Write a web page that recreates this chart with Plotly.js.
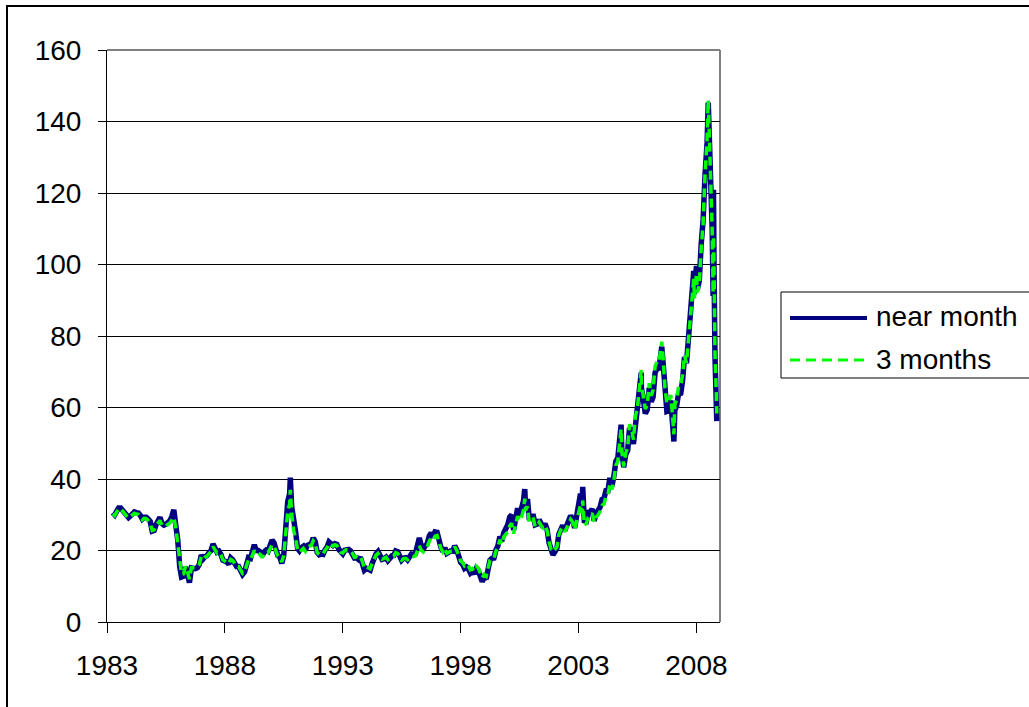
<!DOCTYPE html>
<html>
<head>
<meta charset="utf-8">
<script src="https://cdn.plot.ly/plotly-3.0.1.min.js"></script>
<style>html,body{margin:0;padding:0;background:#fff;}#chart{width:1029px;height:707px;}</style>
</head>
<body>
<div id="chart"></div>
<script>
// ---- data (WTI crude futures, $/bbl) ----
const dates = [
"1983-04","1983-05","1983-06","1983-07","1983-08","1983-09","1983-10","1983-11","1983-12",
"1984-01","1984-02","1984-03","1984-04","1984-05","1984-06","1984-07","1984-08","1984-09","1984-10","1984-11","1984-12",
"1985-01","1985-02","1985-03","1985-04","1985-05","1985-06","1985-07","1985-08","1985-09","1985-10","1985-11","1985-12",
"1986-01","1986-02","1986-03","1986-04","1986-05","1986-06","1986-07","1986-08","1986-09","1986-10","1986-11","1986-12",
"1987-01","1987-02","1987-03","1987-04","1987-05","1987-06","1987-07","1987-08","1987-09","1987-10","1987-11","1987-12",
"1988-01","1988-02","1988-03","1988-04","1988-05","1988-06","1988-07","1988-08","1988-09","1988-10","1988-11","1988-12",
"1989-01","1989-02","1989-03","1989-04","1989-05","1989-06","1989-07","1989-08","1989-09","1989-10","1989-11","1989-12",
"1990-01","1990-02","1990-03","1990-04","1990-05","1990-06","1990-07","1990-08","1990-09","1990-10","1990-10-11","1990-11","1990-12",
"1991-01","1991-02","1991-03","1991-04","1991-05","1991-06","1991-07","1991-08","1991-09","1991-10","1991-11","1991-12",
"1992-01","1992-02","1992-03","1992-04","1992-05","1992-06","1992-07","1992-08","1992-09","1992-10","1992-11","1992-12",
"1993-01","1993-02","1993-03","1993-04","1993-05","1993-06","1993-07","1993-08","1993-09","1993-10","1993-11","1993-12",
"1994-01","1994-02","1994-03","1994-04","1994-05","1994-06","1994-07","1994-08","1994-09","1994-10","1994-11","1994-12",
"1995-01","1995-02","1995-03","1995-04","1995-05","1995-06","1995-07","1995-08","1995-09","1995-10","1995-11","1995-12",
"1996-01","1996-02","1996-03","1996-04","1996-05","1996-06","1996-07","1996-08","1996-09","1996-10","1996-11","1996-12",
"1997-01","1997-02","1997-03","1997-04","1997-05","1997-06","1997-07","1997-08","1997-09","1997-10","1997-11","1997-12",
"1998-01","1998-02","1998-03","1998-04","1998-05","1998-06","1998-07","1998-08","1998-09","1998-10","1998-11","1998-12",
"1999-01","1999-02","1999-03","1999-04","1999-05","1999-06","1999-07","1999-08","1999-09","1999-10","1999-11","1999-12",
"2000-01","2000-02","2000-03","2000-04","2000-05","2000-06","2000-07","2000-08","2000-09","2000-09-20","2000-10","2000-11","2000-12",
"2001-01","2001-02","2001-03","2001-04","2001-05","2001-06","2001-07","2001-08","2001-09","2001-10","2001-11","2001-12",
"2002-01","2002-02","2002-03","2002-04","2002-05","2002-06","2002-07","2002-08","2002-09","2002-10","2002-11","2002-12",
"2003-01","2003-02","2003-03","2003-03-07","2003-04","2003-05","2003-06","2003-07","2003-08","2003-09","2003-10","2003-11","2003-12",
"2004-01","2004-02","2004-03","2004-04","2004-05","2004-06","2004-07","2004-08","2004-09","2004-10","2004-10-22","2004-11","2004-12",
"2005-01","2005-02","2005-03","2005-04","2005-05","2005-06","2005-07","2005-08","2005-08-30","2005-09","2005-10","2005-11","2005-12",
"2006-01","2006-02","2006-03","2006-04","2006-05","2006-06","2006-07","2006-07-14","2006-08","2006-09","2006-10","2006-11","2006-12",
"2007-01","2007-01-18","2007-02","2007-03","2007-04","2007-05","2007-06","2007-07","2007-08","2007-09","2007-10","2007-11","2007-11-21","2007-12",
"2008-01-02","2008-01-15","2008-02-15","2008-03-15","2008-04-15","2008-05-15","2008-06-15","2008-07-03","2008-07-15","2008-08-01","2008-08-15","2008-09-02","2008-09-16","2008-09-22","2008-10-01","2008-10-15","2008-11-01","2008-11-07","2008-11-12"
];

const nearMonth = [
30.6,30.0,31.0,31.9,31.9,31.1,30.4,29.8,29.2,
29.7,30.1,30.8,30.6,30.5,29.8,28.8,29.3,29.3,28.8,28.1,25.4,
25.6,27.3,28.2,29.3,27.6,27.1,27.3,27.8,28.3,29.5,31.4,27.2,
22.9,15.4,12.6,12.8,15.4,13.5,11.0,15.1,14.9,14.9,15.2,16.1,
18.7,17.7,18.3,18.6,19.4,20.0,21.8,20.3,19.5,19.8,18.9,17.3,
17.1,16.8,16.2,17.9,17.4,16.5,15.5,15.5,14.5,13.3,14.0,16.3,
18.0,17.8,19.4,21.6,20.0,20.0,19.6,18.5,19.6,20.1,19.8,21.1,
22.9,22.1,20.4,18.6,18.2,16.4,18.6,27.2,33.7,35.9,40.4,32.3,27.3,
25.2,20.5,19.9,20.8,21.2,20.2,21.4,21.7,21.9,23.5,22.5,19.5,
18.8,19.0,18.9,20.2,20.9,22.4,21.8,21.4,21.9,21.7,20.3,19.4,
19.1,20.1,20.3,20.3,19.9,19.1,17.9,18.0,17.5,18.1,16.7,14.5,
15.0,14.8,14.5,16.4,17.9,19.1,19.7,18.4,17.5,17.7,18.1,17.2,
18.0,18.5,18.6,19.9,19.7,18.5,17.3,17.9,18.0,17.4,18.0,19.0,
18.9,19.1,21.3,23.5,21.2,20.4,21.3,21.9,24.0,24.9,23.7,25.2,
25.1,22.2,20.9,19.7,20.8,19.2,19.6,19.9,19.8,21.3,20.2,18.3,
16.7,16.1,15.0,15.4,14.9,13.7,14.2,13.5,15.0,14.4,12.9,11.3,
12.5,12.0,14.7,17.3,17.8,17.9,20.1,21.3,23.9,22.6,25.0,26.1,
27.2,29.4,29.9,25.7,28.8,31.8,29.7,31.3,33.9,37.2,33.1,34.4,28.5,
29.6,29.6,27.2,27.4,28.6,27.6,26.5,27.5,25.9,22.2,19.7,18.8,
19.7,20.7,24.5,26.2,27.0,25.5,26.9,28.4,29.7,28.9,26.3,29.4,
32.9,35.9,33.6,37.8,28.3,28.1,30.7,30.8,31.6,28.3,30.3,31.1,32.1,
34.3,34.7,36.7,36.7,40.3,38.0,40.7,44.9,45.9,53.1,55.2,48.5,43.3,
46.8,48.0,54.3,53.0,49.8,56.3,58.7,65.0,69.8,65.6,62.3,58.3,59.4,
65.5,61.6,62.9,69.7,70.9,71.0,74.4,77.0,73.0,63.8,58.9,59.1,62.0,
54.5,50.5,59.3,60.4,64.0,63.5,67.5,74.1,72.4,79.9,85.8,94.8,98.2,91.7,
99.6,93.0,95.4,105.5,112.6,125.4,134.0,145.3,138.7,125.0,113.8,109.7,91.2,120.9,98.5,74.5,67.8,61.0,56.2
];

const threeMonths = [
30.3,29.8,30.8,31.7,31.7,30.9,30.2,29.6,29.1,
29.5,29.9,30.4,30.2,30.1,29.5,28.6,29.0,28.9,28.4,27.7,25.6,
25.8,27.0,27.6,28.4,27.1,26.7,26.9,27.3,27.7,28.5,29.3,26.5,
22.0,16.0,13.4,13.5,15.6,14.0,12.0,15.2,15.1,15.2,15.4,16.1,
18.3,17.6,18.1,18.4,19.1,19.7,21.1,20.0,19.3,19.6,18.8,17.4,
17.0,16.8,16.3,17.5,17.2,16.4,15.5,15.5,14.6,13.6,14.1,15.9,
17.4,17.3,18.6,20.0,19.1,19.2,18.9,18.0,19.1,19.6,19.4,20.4,
21.6,21.2,19.9,18.4,18.0,16.8,18.6,25.8,31.0,33.0,37.0,30.2,25.6,
23.5,20.0,19.5,20.2,20.6,19.8,20.9,21.2,21.4,22.7,22.0,19.4,
18.9,19.1,19.0,20.1,20.7,22.0,21.5,21.2,21.6,21.4,20.3,19.5,
19.3,20.0,20.2,20.2,19.9,19.2,18.1,18.2,17.8,18.2,16.9,15.0,
15.4,15.2,14.9,16.5,17.7,18.7,19.2,18.2,17.6,17.8,18.1,17.4,
18.0,18.3,18.4,19.4,19.2,18.2,17.3,17.7,17.8,17.4,17.8,18.5,
18.3,18.5,19.8,21.3,20.1,19.6,20.4,21.0,22.6,23.5,22.9,24.0,
24.2,21.8,20.6,19.6,20.5,19.2,19.6,19.8,19.8,21.1,20.1,18.5,
17.1,16.6,15.7,16.2,15.7,14.6,14.9,14.3,15.6,15.1,13.9,12.4,
13.3,12.8,15.0,17.3,17.7,17.8,19.8,20.8,23.0,21.8,23.8,24.5,
25.2,26.9,27.6,24.7,27.3,29.6,28.3,29.4,31.4,34.5,31.2,32.3,27.8,
28.6,28.8,26.7,26.9,27.9,27.0,26.3,27.0,25.6,22.6,20.3,19.6,
20.2,21.0,24.3,25.8,26.5,25.2,26.3,27.6,28.7,28.0,25.8,28.1,
30.8,32.8,30.5,34.0,27.2,27.5,29.3,29.8,30.4,27.9,29.3,30.0,30.9,
32.6,33.0,35.1,35.4,38.8,37.0,39.6,43.8,45.0,52.0,54.0,47.9,43.5,
47.2,48.8,55.3,54.2,51.0,57.5,59.8,66.0,70.5,66.6,63.4,59.6,60.7,
66.8,63.3,64.9,71.5,72.8,72.6,75.8,78.4,74.6,65.4,61.2,61.6,63.5,
56.4,52.5,60.8,62.2,65.9,66.1,69.1,74.6,72.4,79.0,84.6,93.0,96.0,90.5,
97.5,92.2,94.3,104.2,111.8,125.6,134.8,146.0,139.0,125.4,113.9,109.5,92.0,108.0,98.8,75.5,69.0,62.5,58.3
];

const seriesNames = ["near month", "3 months"];
const yearTicks = ["1983-01-01","1988-01-01","1993-01-01","1998-01-01","2003-01-01","2008-01-01"];
const yearLabels = ["1983","1988","1993","1998","2003","2008"];

// ---- layout helpers ----
const PL = 107, PR = 720, PT = 50, PB = 622;
const px = x => (x - PL) / (PR - PL);
const py = y => (PB - y) / (PB - PT);
const FONT = "Liberation Sans, Arial, sans-serif";
const NAVY = "#000080", LIME = "#00FF00";

const traces = [
  {x: dates, y: nearMonth, name: seriesNames[0], type: "scatter", mode: "lines",
   line: {color: NAVY, width: 5.5}},
  {x: dates, y: threeMonths, name: seriesNames[1], type: "scatter", mode: "lines",
   line: {color: LIME, width: 3.5, dash: "9px,5px"}}
];

const layout = {
  width: 1029, height: 707,
  margin: {l: PL, r: 1029 - PR, t: PT, b: 707 - PB, pad: 0},
  paper_bgcolor: "#ffffff", plot_bgcolor: "#ffffff",
  showlegend: false,
  font: {family: FONT, size: 28, color: "#000"},
  xaxis: {
    type: "date", range: ["1983-01-01", "2009-01-01"],
    tickmode: "array", tickvals: yearTicks, ticktext: yearLabels,
    ticks: "outside", ticklen: 10, tickwidth: 1, tickcolor: "#000",
    showline: true, linecolor: "#000", linewidth: 1,
    showgrid: false, zeroline: false,
    tickfont: {family: FONT, size: 28, color: "#000"},
    ticklabelstandoff: 8
  },
  yaxis: {
    range: [0, 160], tickmode: "linear", tick0: 0, dtick: 20,
    ticks: "outside", ticklen: 8, tickwidth: 1, tickcolor: "#000",
    showline: true, linecolor: "#000", linewidth: 1,
    showgrid: true, gridcolor: "#000", gridwidth: 1, zeroline: false,
    tickfont: {family: FONT, size: 28, color: "#000"},
    ticklabelstandoff: 11
  },
  shapes: [
    {type: "rect", xref: "paper", yref: "paper", x0: px(7), x1: px(1200), y0: py(900), y1: py(6),
     line: {color: "#000", width: 2}, fillcolor: "rgba(0,0,0,0)", layer: "below"},
    {type: "line", xref: "paper", yref: "paper", x0: 0, x1: 1, y0: 1, y1: 1,
     line: {color: "#808080", width: 2}, layer: "above"},
    {type: "line", xref: "paper", yref: "paper", x0: 1, x1: 1, y0: 0, y1: 1,
     line: {color: "#808080", width: 2}, layer: "below"},
    {type: "rect", xref: "paper", yref: "paper", x0: px(781), x1: px(1100), y0: py(378), y1: py(292),
     line: {color: "#000", width: 1}, fillcolor: "#fff", layer: "above"},
    {type: "line", xref: "paper", yref: "paper", x0: px(790), x1: px(867), y0: py(318), y1: py(318),
     line: {color: NAVY, width: 4}, layer: "above"},
    {type: "line", xref: "paper", yref: "paper", x0: px(790), x1: px(867), y0: py(360), y1: py(360),
     line: {color: LIME, width: 3, dash: "10px,6px"}, layer: "above"}
  ],
  annotations: [
    {xref: "paper", yref: "paper", x: px(874), y: py(316), xanchor: "left", yanchor: "middle",
     text: seriesNames[0], showarrow: false, font: {family: FONT, size: 28, color: "#000"}},
    {xref: "paper", yref: "paper", x: px(874), y: py(359), xanchor: "left", yanchor: "middle",
     text: seriesNames[1], showarrow: false, font: {family: FONT, size: 28, color: "#000"}}
  ]
};

Plotly.newPlot("chart", traces, layout, {staticPlot: true, displayModeBar: false});
</script>
</body>
</html>
